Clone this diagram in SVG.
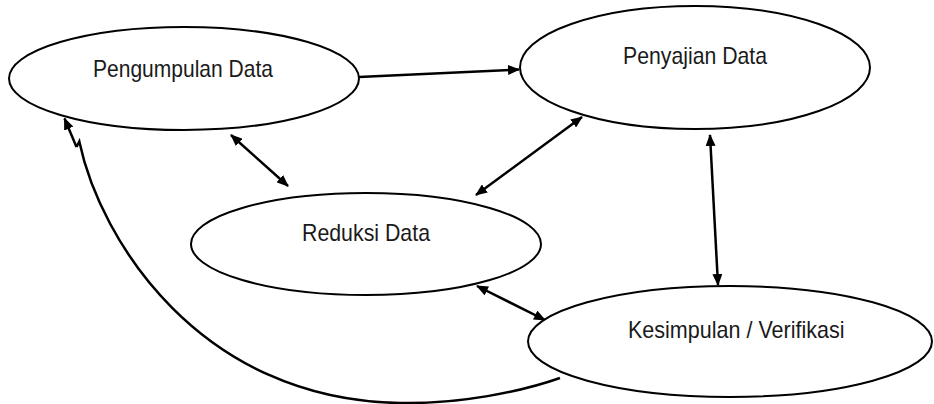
<svg xmlns="http://www.w3.org/2000/svg" width="934" height="404" viewBox="0 0 934 404">
<style>
.node ellipse{fill:#fff;stroke:#000;stroke-width:2}
.node text{font-family:"Liberation Sans",Arial,sans-serif;font-size:24px;fill:#1a1a1a}
.conn{fill:none;stroke:#000;stroke-width:2.5}
</style>
<defs>
<marker id="ah" viewBox="0 0 12 10" refX="11" refY="5" markerUnits="userSpaceOnUse" markerWidth="12" markerHeight="10" orient="auto-start-reverse">
<path d="M0,0 L12,5 L0,10 z" fill="#000"/>
</marker>
</defs>
<rect width="934" height="404" fill="#fff"/>
<g id="connectors">
<line class="conn" x1="359" y1="77" x2="519" y2="69.5" marker-end="url(#ah)"/>
<line class="conn" x1="231" y1="135" x2="288" y2="186" marker-start="url(#ah)" marker-end="url(#ah)"/>
<line class="conn" x1="582" y1="117" x2="476" y2="195" marker-start="url(#ah)" marker-end="url(#ah)"/>
<line class="conn" x1="710" y1="135" x2="718" y2="285" marker-start="url(#ah)" marker-end="url(#ah)"/>
<line class="conn" x1="477" y1="286" x2="545" y2="320" marker-start="url(#ah)" marker-end="url(#ah)"/>
<path class="conn" d="M560,378 C520,392 460,404 400,403 C200,400 100,240 79.3,141.5 L76.5,147"/>
<path class="conn" d="M76.5,147 L64.5,118.5" marker-end="url(#ah)"/>
</g>
<g id="n1" class="node">
<ellipse cx="184" cy="78.5" rx="175" ry="51.5"/>
<text x="93" y="76.7" textLength="180" lengthAdjust="spacingAndGlyphs">Pengumpulan Data</text>
</g>
<g id="n2" class="node">
<ellipse cx="695" cy="67.5" rx="175" ry="61.5"/>
<text x="623" y="64" textLength="144" lengthAdjust="spacingAndGlyphs">Penyajian Data</text>
</g>
<g id="n3" class="node">
<ellipse cx="366" cy="244" rx="175" ry="51"/>
<text x="302" y="240.7" textLength="128" lengthAdjust="spacingAndGlyphs">Reduksi Data</text>
</g>
<g id="n4" class="node">
<ellipse cx="730" cy="341.5" rx="202" ry="55.5"/>
<text x="628" y="337.7" textLength="216.5" lengthAdjust="spacingAndGlyphs">Kesimpulan / Verifikasi</text>
</g>
</svg>
